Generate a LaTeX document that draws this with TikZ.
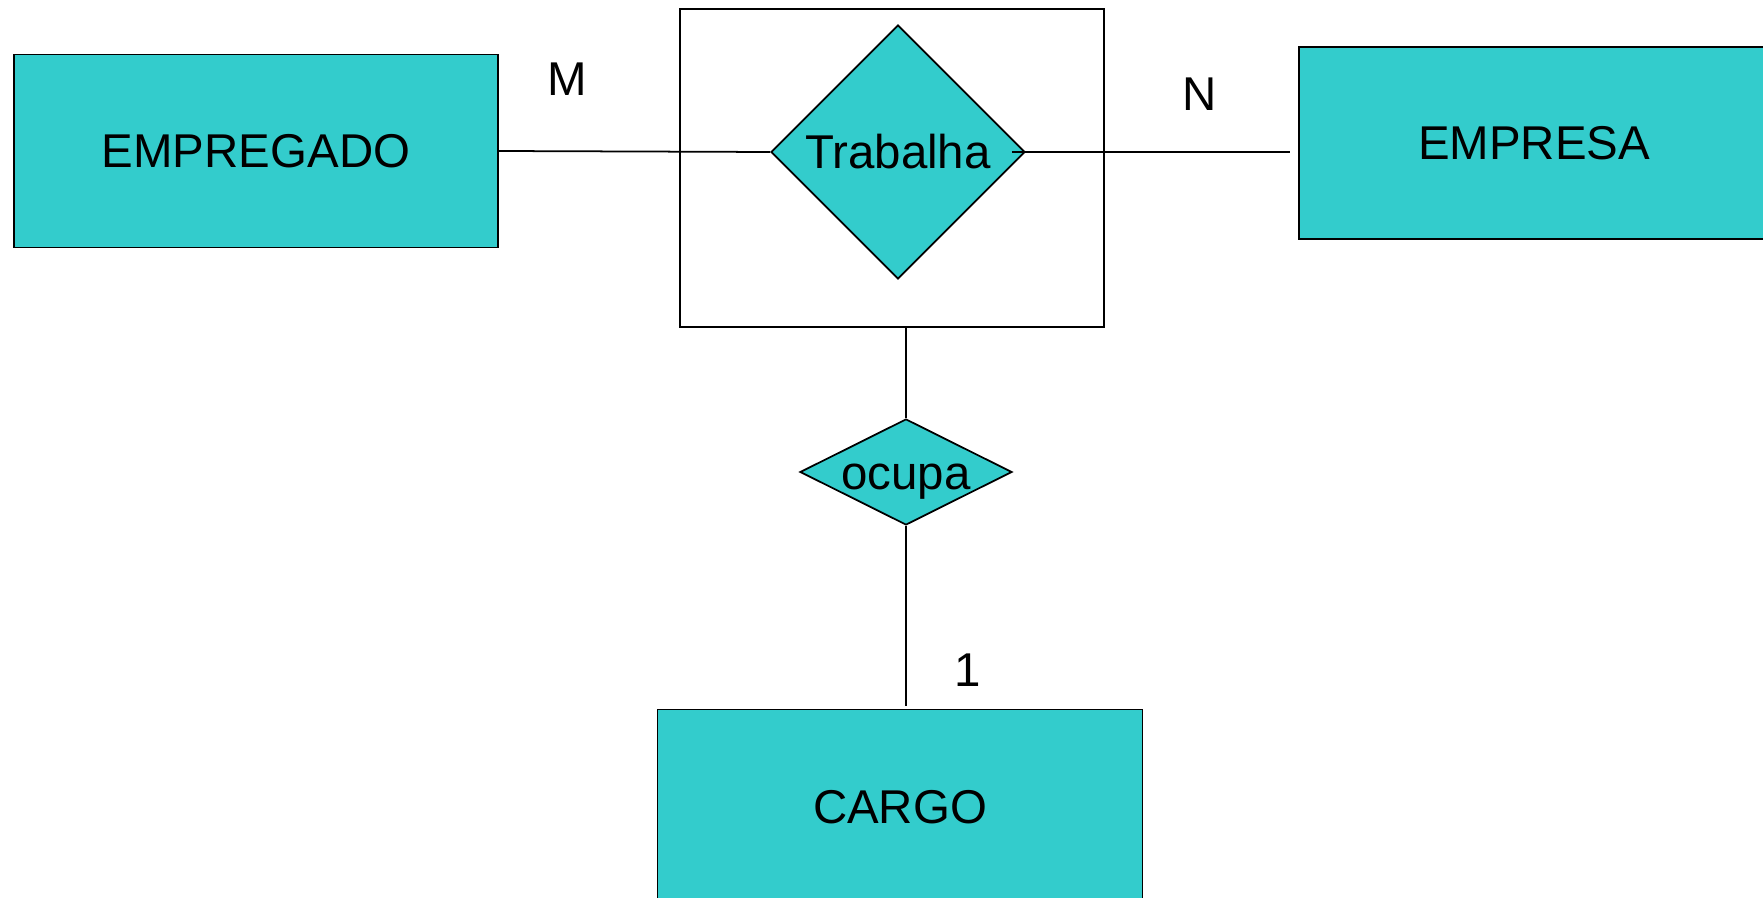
\documentclass[tikz,border=0pt]{standalone}
\usepackage{fontspec}
\setmainfont{Liberation Sans}
\usetikzlibrary{shapes.geometric, positioning, calc}
\definecolor{erfill}{RGB}{51,204,204}
\newcommand{\erfont}{\fontsize{27}{32}\selectfont}

\begin{document}
\begin{tikzpicture}[
    x=0.02cm, y=-0.02cm,
    entity/.style={rectangle, draw, fill=erfill, inner sep=0pt, line width=1pt, font=\erfont},
    rel/.style={diamond, draw, fill=erfill, inner sep=0pt, line width=1pt, font=\erfont},
    aggbox/.style={rectangle, draw, fill=white, inner sep=0pt, line width=1pt},
    card/.style={font=\erfont},
    link/.style={line width=1pt}
]
\useasboundingbox (0,0) rectangle (1763,898);
\fill[white] (0,0) rectangle (1763,898);

% Aggregation around the relationship
\node[aggbox, minimum width=8.48cm, minimum height=6.36cm] (agg) at (892,168) {};
\node[rel, minimum width=5.08cm, minimum height=5.08cm] (trab) at (898,152) {Trabalha};

% Entities
\node[entity, minimum width=9.68cm, minimum height=3.86cm] (emp) at (256,151) {EMPREGADO};
\node[entity, minimum width=9.4cm, minimum height=3.84cm] (empresa) at (1534,143) {EMPRESA};
\node[entity, minimum width=9.7cm, minimum height=3.9cm] (cargo) at (900,807) {CARGO};

% Relationship with the aggregation
\node[rel, minimum width=4.24cm, minimum height=2.12cm,
      label={[font=\erfont, yshift=-0.2cm]center:ocupa}] (ocupa) at (906,472) {};

% Lines
\draw[link] (emp.east) -- (trab.west);
\draw[link] ([xshift=-0.28cm]trab.east) -- ([xshift=-0.16cm]trab.east -| empresa.west);
\draw[link] (ocupa.north) -- (ocupa.north |- agg.south);
\draw[link] (ocupa.south) -- ([yshift=0.05cm]ocupa.south |- cargo.north);

% Cardinalities
\node[card] (cardm) at (567,79) {M};
\node[card] (cardn) at (1200,94) {N};
\node[card] (card1) at (968,670) {1};

\end{tikzpicture}
\end{document}
